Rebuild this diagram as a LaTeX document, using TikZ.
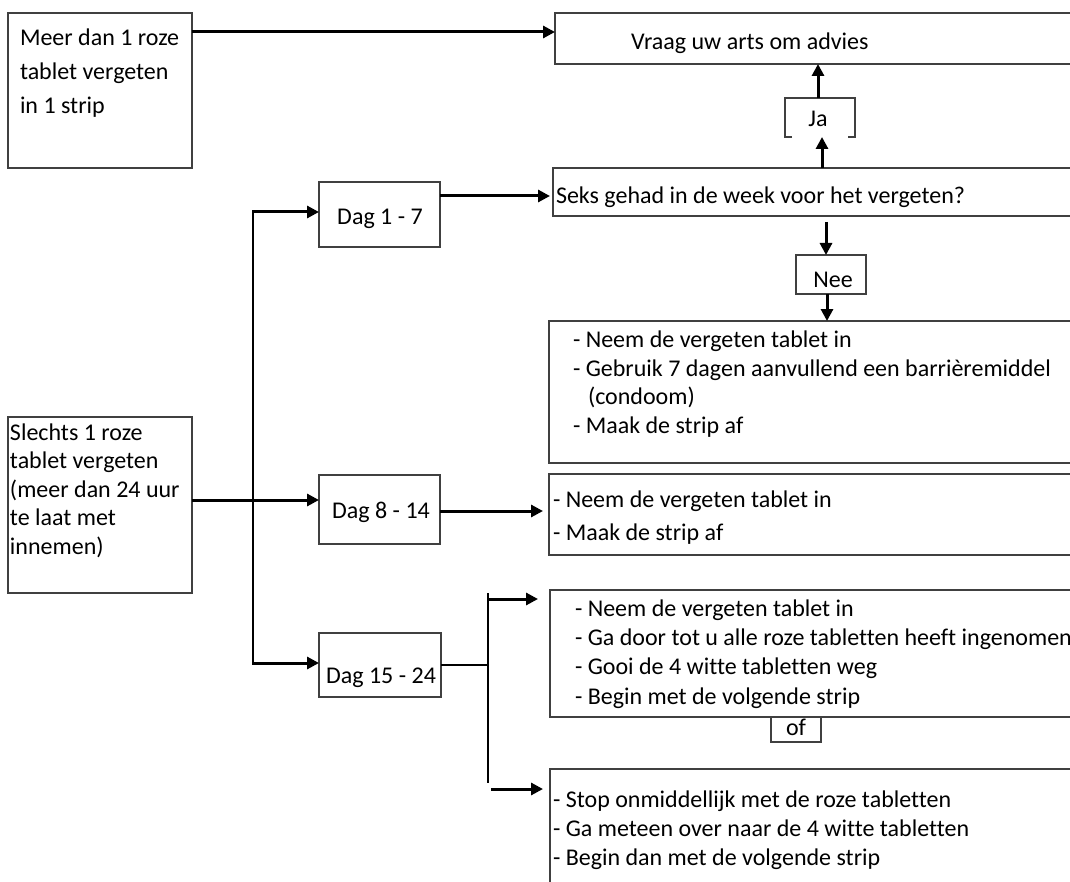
\documentclass[tikz,border=0pt]{standalone}
\usepackage{fontspec}
\setmainfont{Carlito}[Ligatures=NoCommon]
\usetikzlibrary{arrows.meta}
\tikzset{
 boxst/.style={draw=black!75, line width=0.6pt, inner sep=0pt, outer sep=0pt},
 boxline/.style={draw=black!75, line width=0.6pt},
 txt/.style={inner sep=0pt, outer sep=0pt, anchor=base west, font=\fontsize{12}{14}\selectfont},
 ctxt/.style={txt, anchor=base},
 arr/.style={line width=1.5pt, -{Triangle[length=6pt,width=6pt]}},
 thinln/.style={line width=0.8pt},
}
\newcommand\mybox[5]{\node[boxst, minimum width={(#4-#2)*0.5pt}, minimum height={(#5-#3)*0.5pt}] (#1) at ({(#2+#4)/2},{(#3+#5)/2}) {};}
\begin{document}
\begin{tikzpicture}[x=0.5pt,y=-0.5pt]
\useasboundingbox (0,0) rectangle (1070,882);
\fill[white] (0,0) rectangle (1070,882);
\clip (0,0) rectangle (1070,882);
% boxes
\mybox{meer}{8}{13}{192}{168}
\mybox{vraag}{555}{13}{1100}{64}
\node[inner sep=0pt, outer sep=0pt, minimum width=35pt, minimum height=19.5pt] (ja) at (820,117.5) {};
\draw[boxline] ([xshift=3.5pt]ja.south west) -- (ja.south west) -- (ja.north west) -- (ja.north east) -- (ja.south east) -- ([xshift=-3.5pt]ja.south east);
\mybox{seks}{553}{168}{1100}{216}
\mybox{dag1}{319}{182}{440}{247}
\mybox{nee}{796}{255}{866}{294}
\mybox{neem1}{549}{321}{1100}{463}
\mybox{slechts}{8}{417}{192}{593}
\mybox{dag2}{319}{475}{440}{544}
\mybox{neem2}{549}{474}{1100}{555}
\mybox{neem3}{550}{590}{1100}{717}
\mybox{dag3}{319}{633}{441}{697}
\mybox{of}{771}{717}{821}{742}
\mybox{stop}{550}{769}{1100}{900}
% texts
\node[txt] (m1) at (20,46) {Meer dan 1 roze};
\node[txt] (m2) at (20,80) {tablet vergeten};
\node[txt] (m3) at (20,114) {in 1 strip};
\node[txt] (vt) at (631,50) {Vraag uw arts om advies};
\node[ctxt] (jt) at (818,127) {Ja};
\node[txt] (st) at (556,204) {Seks gehad in de week voor het vergeten?};
\node[ctxt] (nt) at (833,287) {Nee};
\node[txt] (b1a) at (573,347) {- Neem de vergeten tablet in};
\node[txt] (b1b) at (573,376) {- Gebruik 7 dagen aanvullend een barrièremiddel};
\node[txt] (b1c) at (588,404) {(condoom)};
\node[txt] (b1d) at (573,433) {- Maak de strip af};
\node[txt] (s1) at (10,440) {Slechts 1 roze};
\node[txt] (s2) at (10,468.6) {tablet vergeten};
\node[txt] (s3) at (10,497.2) {(meer dan 24 uur};
\node[txt] (s4) at (10,525.8) {te laat met};
\node[txt] (s5) at (10,554.4) {innemen)};
\node[ctxt] (d1t) at (380,225) {Dag 1 - 7};
\node[ctxt] (d2t) at (381,518) {Dag 8 - 14};
\node[ctxt] (d3t) at (381,683) {Dag 15 - 24};
\node[txt] (b2a) at (553,507) {- Neem de vergeten tablet in};
\node[txt] (b2b) at (553,540) {- Maak de strip af};
\node[txt] (b3a) at (575,616) {- Neem de vergeten tablet in};
\node[txt] (b3b) at (575,645.3) {- Ga door tot u alle roze tabletten heeft ingenomen};
\node[txt] (b3c) at (575,674.6) {- Gooi de 4 witte tabletten weg};
\node[txt] (b3d) at (575,704) {- Begin met de volgende strip};
\node[ctxt] (oft) at (796,735) {of};
\node[txt] (b4a) at (553,807) {- Stop onmiddellijk met de roze tabletten};
\node[txt] (b4b) at (553,836) {- Ga meteen over naar de 4 witte tabletten};
\node[txt] (b4c) at (553,865) {- Begin dan met de volgende strip};
% connectors
\coordinate (c1) at (0,32);
\draw[arr] (meer.east |- c1) -- (vraag.west |- c1);
\coordinate (cja) at (818,0);
\draw[arr] (ja.north -| cja) -- (vraag.south -| cja);
\coordinate (cs) at (822,0);
\draw[arr] (seks.north -| cs) -- (ja.south -| cs);
\coordinate (cd1) at (0,196);
\draw[arr, shorten >=1.5pt] (dag1.east |- cd1) -- (seks.west |- cd1);
\coordinate (cn) at (826,0);
\draw[arr] ([yshift=-3pt]seks.south -| cn) -- (nee.north -| cn);
\coordinate (cn2) at (827,0);
\draw[arr] (nee.south -| cn2) -- (neem1.north -| cn2);
\coordinate (cy) at (0,500);
\draw[arr] (slechts.east |- cy) -- (dag2.west |- cy);
\coordinate (tTop) at (253,212);
\coordinate (tBot) at (253,663);
\draw[thinln] (tTop) -- (tBot);
\draw[arr] ([xshift=-0.4pt]tTop) -- (dag1.west |- tTop);
\draw[arr] ([xshift=-0.4pt]tBot) -- (dag3.west |- tBot);
\coordinate (cd2) at (0,511);
\draw[arr, shorten >=3pt] (dag2.east |- cd2) -- (neem2.west |- cd2);
\coordinate (bJ) at (488,665);
\draw[thinln] (dag3.east |- bJ) -- (bJ);
\coordinate (bT) at (488,593);
\coordinate (bB) at (488,783);
\draw[thinln] (bT) -- (bB);
\coordinate (a3) at (488,599);
\draw[arr, shorten >=6pt] (a3) -- (neem3.west |- a3);
\coordinate (a4) at (491,789);
\draw[arr, shorten >=3.5pt] (a4) -- (stop.west |- a4);
\end{tikzpicture}
\end{document}
